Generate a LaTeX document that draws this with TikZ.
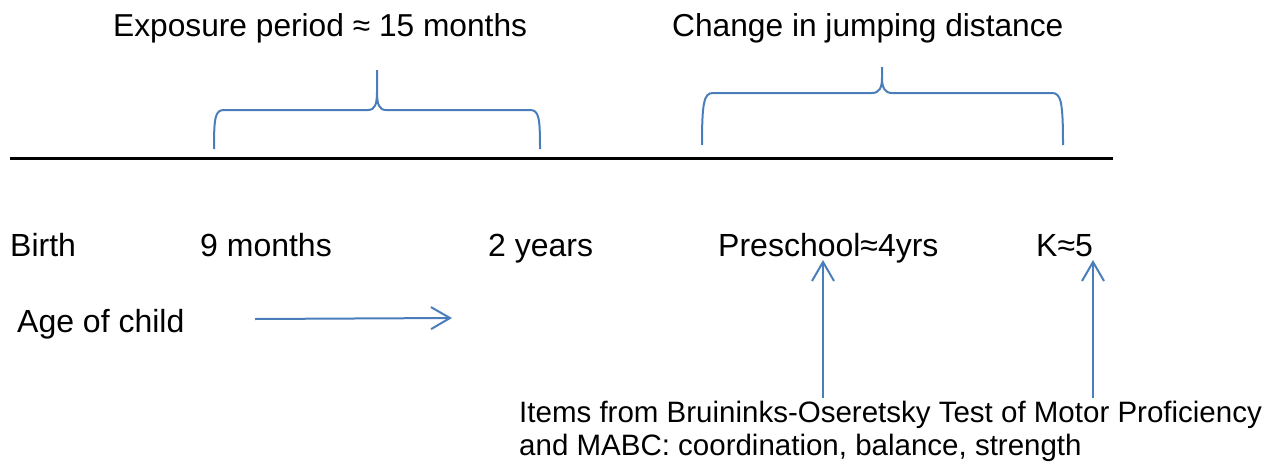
\documentclass[tikz,border=0pt]{standalone}
\usepackage{fontspec}
\setmainfont{Liberation Sans}
\usetikzlibrary{arrows.meta}
\definecolor{bl}{RGB}{74,126,187}
\begin{document}
\begin{tikzpicture}[x=1pt,y=-1pt,
 lbl/.style={anchor=base west, inner sep=0pt, font=\fontsize{32}{38}\selectfont},
 ttl/.style={anchor=base west, inner sep=0pt, font=\fontsize{31.7}{38}\selectfont},
 note/.style={anchor=base west, inner sep=0pt, align=left, font=\fontsize{29.5}{33}\selectfont},
 brace/.style={draw=bl, line width=2pt},
 arr/.style={draw=bl, line width=2pt, -{Straight Barb[length=19pt,width=22pt,line width=2pt]}}]
\useasboundingbox (0,0) rectangle (1279,466);
% titles
\node[ttl] (t1) at (113,36) {Exposure period ≈ 15 months};
\node[ttl] (t2) at (672,36) {Change in jumping distance};
% timeline
\coordinate (l0) at (10,158);
\coordinate (l1) at (1113,158);
\draw[line width=3pt] (l0) -- (l1);
% braces
\draw[brace] (214,149) .. controls (214,118) and (215,110) .. (224,110) -- (368,110)
  .. controls (375,110) and (377,104) .. (377,92) -- (377,70);
\draw[brace] (540,149) .. controls (540,118) and (539,110) .. (530,110) -- (386,110)
  .. controls (379,110) and (377,104) .. (377,92);
\draw[brace] (702,145) .. controls (702,102) and (704,93) .. (713,93) -- (872,93)
  .. controls (879,93) and (882,88) .. (882,78) -- (882,67);
\draw[brace] (1063,145) .. controls (1063,102) and (1061,93) .. (1052,93) -- (892,93)
  .. controls (885,93) and (882,88) .. (882,78);
% age labels
\node[lbl] (birth) at (10,256) {Birth};
\node[lbl] (m9) at (200,256) {9 months};
\node[lbl] (y2) at (488,256) {2 years};
\node[lbl] (pre) at (718,256) {Preschool≈4yrs};
\node[lbl] (k5) at (1036,256) {K≈5};
\node[lbl] (age) at (17,332) {Age of child};
% age arrow
\coordinate (a0) at (255,319);
\coordinate (a1) at (452,318);
\draw[arr] (a0) -- (a1);
% note
\node[note] (note) at (519,455) {Items from Bruininks-Oseretsky Test of Motor Proficiency\\and MABC: coordination, balance, strength};
\coordinate (p0) at (823,398);
\coordinate (p1) at (823,260);
\coordinate (k0) at (1093,398);
\coordinate (k1) at (1093,260);
\draw[arr] (p0) -- (p1);
\draw[arr] (k0) -- (k1);
\end{tikzpicture}
\end{document}
